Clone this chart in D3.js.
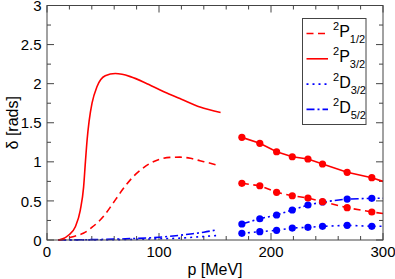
<!DOCTYPE html>
<html>
<head>
<meta charset="utf-8">
<script src="https://cdn.jsdelivr.net/npm/d3@7"></script>
<style>
  body { margin: 0; background: #fff; }
</style>
</head>
<body>
<div id="chart"></div>
<script>
// tick labels
var xTicks = [0, 100, 200, 300];
var yTicks = [0, 0.5, 1, 1.5, 2, 2.5, 3];
var yTickLabels = ["0", "0.5", "1", "1.5", "2", "2.5", "3"];

// low momentum curves (p in MeV, delta in rads)
var p32LowP = [10.4, 14, 19.4, 25.3, 29.7, 32.7, 34.3, 35.8, 37.6, 40.2, 44.6, 52, 61, 67, 74.4, 89.3, 107, 120, 136.6, 155];
var p32LowV = [0, 0.015, 0.064, 0.17, 0.38, 0.68, 1.0, 1.28, 1.52, 1.75, 1.96, 2.10, 2.13, 2.12, 2.09, 2.0, 1.88, 1.8, 1.70, 1.63];

var p12LowP = [10, 15, 20, 26, 32.4, 40, 50.3, 58, 65.2, 71, 77, 84, 92, 100, 109.8, 118.8, 128, 136.6, 145, 151.5];
var p12LowV = [0, 0.01, 0.03, 0.055, 0.086, 0.16, 0.3, 0.45, 0.6, 0.71, 0.81, 0.9, 0.98, 1.03, 1.057, 1.06, 1.045, 1.014, 0.985, 0.96];

var d32LowP = [10, 40, 70, 100, 120, 135, 154];
var d32LowV = [0, 0.002, 0.006, 0.015, 0.025, 0.04, 0.06];

var d52LowP = [10, 40, 70, 100, 115, 130, 140, 151.5];
var d52LowV = [0, 0.005, 0.015, 0.035, 0.055, 0.08, 0.1, 0.13];

// high momentum points
var highP = [174, 190, 205, 219, 233, 246, 268, 290];
var p32High = [1.313, 1.237, 1.129, 1.065, 1.036, 0.972, 0.866, 0.797];
var p12High = [0.725, 0.694, 0.61, 0.566, 0.537, 0.49, 0.413, 0.358];
var d32High = [0.086, 0.106, 0.124, 0.153, 0.162, 0.175, 0.188, 0.175];
var d52High = [0.205, 0.272, 0.32, 0.384, 0.448, 0.486, 0.524, 0.533];
// line end values at p = 300
var endP = 300;
var p32End = 0.75, p12End = 0.34, d32End = 0.175, d52End = 0.535;

var legendNames = [["P", "1/2"], ["P", "3/2"], ["D", "3/2"], ["D", "5/2"]];

var margin = {top: 5.5, right: 12, bottom: 39, left: 47},
    width = 395 - margin.left - margin.right,
    height = 279 - margin.top - margin.bottom;

var svg = d3.select("#chart")
    .append("svg")
    .attr("width", 395)
    .attr("height", 279)
    .style("font-family", "'Liberation Sans', Arial, sans-serif")
    .append("g")
    .attr("transform", "translate(" + margin.left + "," + margin.top + ")");

var x = d3.scaleLinear().domain([0, 300]).range([0, width]);
var y = d3.scaleLinear().domain([0, 3]).range([height, 0]);

var axisColor = "#444";

// ticks (inward, mirrored)
var xMinor = d3.range(0, 301, 20);
var yMinor = d3.range(0, 3.001, 0.25);
function isMajorX(v) { return v % 100 === 0; }
function isMajorY(v) { return Math.abs(v * 2 - Math.round(v * 2)) < 1e-6; }

var ticks = svg.append("g").attr("stroke", axisColor).attr("stroke-width", 1);
xMinor.forEach(function(v) {
    var len = isMajorX(v) ? 7 : 4;
    ticks.append("line").attr("x1", x(v)).attr("x2", x(v)).attr("y1", height).attr("y2", height - len);
    ticks.append("line").attr("x1", x(v)).attr("x2", x(v)).attr("y1", 0).attr("y2", len);
});
yMinor.forEach(function(v) {
    var len = isMajorY(v) ? 7 : 4;
    ticks.append("line").attr("y1", y(v)).attr("y2", y(v)).attr("x1", 0).attr("x2", len);
    ticks.append("line").attr("y1", y(v)).attr("y2", y(v)).attr("x1", width).attr("x2", width - len);
});

// tick labels
svg.append("g").selectAll("text")
    .data(xTicks)
    .enter().append("text")
    .attr("x", function(d) { return x(d); })
    .attr("y", height + 17)
    .attr("text-anchor", "middle")
    .style("font-size", "15px")
    .attr("fill", "#000")
    .text(function(d) { return d; });

svg.append("g").selectAll("text")
    .data(yTicks)
    .enter().append("text")
    .attr("x", -5.5)
    .attr("y", function(d) { return y(d) + 5.6; })
    .attr("text-anchor", "end")
    .style("font-size", "15px")
    .attr("fill", "#000")
    .text(function(d, i) { return yTickLabels[i]; });

// axis titles
svg.append("text")
    .attr("x", width / 2)
    .attr("y", height + 35)
    .attr("text-anchor", "middle")
    .style("font-size", "16px")
    .text("p [MeV]");

svg.append("text")
    .attr("transform", "translate(" + (-29) + "," + (height / 2) + ") rotate(-90)")
    .attr("text-anchor", "middle")
    .style("font-size", "16px")
    .text("δ [rads]");

// curves
var line = d3.line()
    .x(function(d) { return x(d[0]); })
    .y(function(d) { return y(d[1]); })
    .curve(d3.curveMonotoneX);
var lineLin = d3.line()
    .x(function(d) { return x(d[0]); })
    .y(function(d) { return y(d[1]); });

function zip(a, b) { return a.map(function(v, i) { return [v, b[i]]; }); }

var styles = {
    p12: {color: "red", dash: "7,4.5"},
    p32: {color: "red", dash: null},
    d32: {color: "blue", dash: "2,4"},
    d52: {color: "blue", dash: "8,3,2,3"}
};

var plot = svg.append("g");

function drawPath(data, st, gen) {
    plot.append("path")
        .attr("d", gen(data))
        .attr("fill", "none")
        .attr("stroke", st.color)
        .attr("stroke-width", 1.6)
        .attr("stroke-dasharray", st.dash);
}

drawPath(zip(d32LowP, d32LowV), styles.d32, line);
drawPath(zip(d52LowP, d52LowV), styles.d52, line);
drawPath(zip(p12LowP, p12LowV), styles.p12, line);
drawPath(zip(p32LowP, p32LowV), styles.p32, line);

drawPath(zip(highP, d32High).concat([[endP, d32End]]), styles.d32, lineLin);
drawPath(zip(highP, d52High).concat([[endP, d52End]]), styles.d52, lineLin);
drawPath(zip(highP, p12High).concat([[endP, p12End]]), styles.p12, lineLin);
drawPath(zip(highP, p32High).concat([[endP, p32End]]), styles.p32, lineLin);

function drawDots(vals, color) {
    plot.append("g").selectAll("circle")
        .data(zip(highP, vals))
        .enter().append("circle")
        .attr("cx", function(d) { return x(d[0]); })
        .attr("cy", function(d) { return y(d[1]); })
        .attr("r", 3.6)
        .attr("fill", color);
}
drawDots(d32High, "blue");
drawDots(d52High, "blue");
drawDots(p12High, "red");
drawDots(p32High, "red");

// frame
svg.append("rect")
    .attr("x", 0).attr("y", 0)
    .attr("width", width).attr("height", height)
    .attr("fill", "none")
    .attr("stroke", axisColor)
    .attr("stroke-width", 1);

// legend
var lx = 302.5 - margin.left, ly = 18.5 - margin.top;
var legend = svg.append("g").attr("transform", "translate(" + lx + "," + ly + ")");
legend.append("rect")
    .attr("width", 63.5).attr("height", 106)
    .attr("fill", "#fff")
    .attr("stroke", axisColor)
    .attr("stroke-width", 1);

var legendStyles = [styles.p12, styles.p32, styles.d32, styles.d52];
legendStyles.forEach(function(st, i) {
    var ry = 15 + i * 25.3;
    legend.append("line")
        .attr("x1", 4).attr("x2", 25.5)
        .attr("y1", ry).attr("y2", ry)
        .attr("stroke", st.color)
        .attr("stroke-width", 1.6)
        .attr("stroke-dasharray", st.dash);
    var t = legend.append("text")
        .attr("x", 30.5)
        .attr("y", ry + 3.5)
        .style("font-size", "16px");
    t.append("tspan").attr("dy", -7).style("font-size", "11px").text("2");
    t.append("tspan").attr("dy", 7).text(legendNames[i][0]);
    t.append("tspan").attr("dy", 6).style("font-size", "11px").text(legendNames[i][1]);
});
</script>
</body>
</html>
